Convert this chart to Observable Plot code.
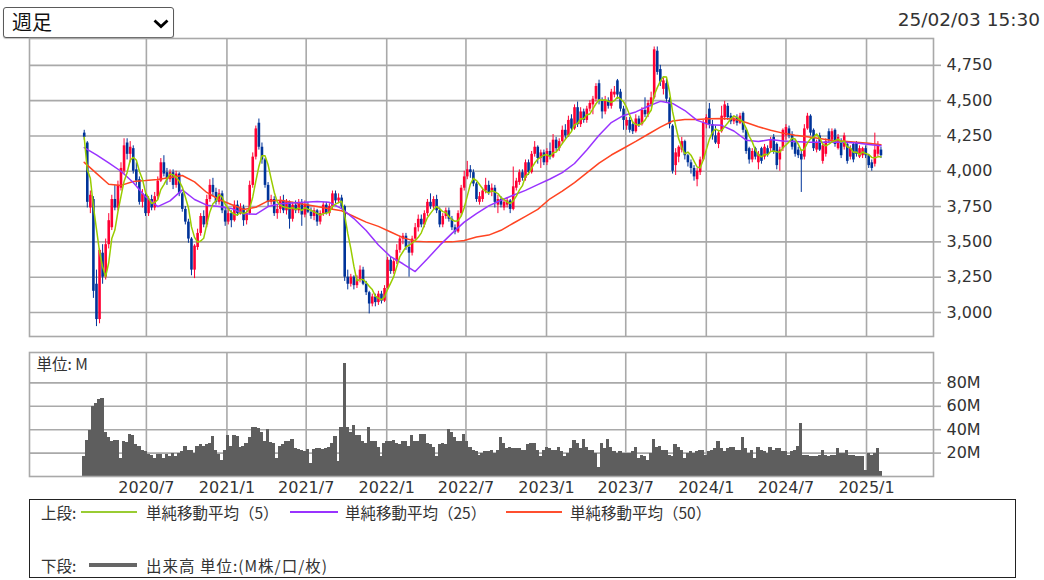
<!DOCTYPE html>
<html lang="ja">
<head>
<meta charset="utf-8">
<script src="https://cdn.jsdelivr.net/npm/d3@7"></script>
<script src="https://cdn.jsdelivr.net/npm/@observablehq/plot@0.6"></script>
<style>
  html,body{margin:0;padding:0;background:#fff;}
  #wrap{position:relative;width:1044px;height:580px;overflow:hidden;background:#fff;font-family:"DejaVu Sans","Noto Sans CJK JP",sans-serif;color:#333;}
  #sel{position:absolute;left:3px;top:7px;width:169px;height:29px;border:1px solid #5a5a5a;border-radius:3px;box-shadow:0 1px 1px rgba(0,0,0,0.25);background:#fff;}
  #sel span{position:absolute;left:8px;top:0;font-family:"Noto Sans CJK JP",sans-serif;font-size:20px;line-height:28px;color:#111;}
  #sel svg{position:absolute;left:149px;top:11px;}
  #stamp{position:absolute;right:4px;top:9px;font-size:18.5px;line-height:22px;color:#333;}
  .chart{position:absolute;left:0;}
  #legend{position:absolute;left:29px;top:499px;width:987px;height:79px;box-sizing:border-box;border:1.5px solid #222;background:#fff;}
  .lg{position:absolute;font-family:"Noto Sans CJK JP",sans-serif;font-size:15.5px;line-height:20px;color:#333;white-space:nowrap;}
  .ln{position:absolute;}
</style>
</head>
<body>
<div id="wrap">
  <div id="sel"><span>週足</span><svg width="16" height="10"><path d="M1.5 1.5 L8 7.5 L14.5 1.5" stroke="#000" stroke-width="2.8" fill="none"/></svg></div>
  <div id="stamp">25/02/03 15:30</div>
  <div id="price" class="chart" style="top:0"></div>
  <div id="vol" class="chart" style="top:340px"></div>
  <div id="legend">
    <div class="lg" style="left:11px;top:2px">上段:</div>
    <div class="ln" style="left:51px;top:11px;width:56px;height:2px;background:#99cc33"></div>
    <div class="lg" style="left:116px;top:2px">単純移動平均（5）</div>
    <div class="ln" style="left:260px;top:11px;width:48px;height:2px;background:#9933ff"></div>
    <div class="lg" style="left:315px;top:2px">単純移動平均（25）</div>
    <div class="ln" style="left:476px;top:11px;width:56px;height:2px;background:#ff4f2f"></div>
    <div class="lg" style="left:540px;top:2px">単純移動平均（50）</div>
    <div class="lg" style="left:11px;top:55px">下段:</div>
    <div class="ln" style="left:59px;top:63px;width:48px;height:4px;background:#666"></div>
    <div class="lg" style="left:116px;top:55px;letter-spacing:1px">出来高 単位:(M株/口/枚)</div>
  </div>
</div>
<script>
// ---- data (weekly, first week 2020-02-10) ----
const opens = [
4270,4200,3740,3800,3200,2950,3420,3250,3480,3600,
3800,3740,3880,4000,4200,4120,4160,4010,3940,3780,
3830,3700,3800,3740,3820,3930,4060,3990,3940,3990,
3900,3980,3840,3730,3640,3520,3300,3460,3560,3680,
3620,3800,3900,3850,3780,3840,3720,3640,3700,3650,
3760,3700,3740,3650,3700,3900,4100,4340,4170,4080,
3900,3780,3800,3700,3730,3790,3720,3780,3660,3760,
3720,3780,3690,3760,3710,3680,3720,3640,3700,3760,
3700,3750,3840,3790,3810,3750,3250,3200,3250,3190,
3230,3300,3200,3140,3060,3110,3070,3130,3080,3170,
3370,3290,3360,3440,3520,3540,3460,3420,3520,3600,
3660,3620,3700,3780,3750,3800,3720,3620,3680,3720,
3660,3600,3570,3700,3880,3960,4010,3990,3910,3780,
3800,3860,3900,3850,3880,3760,3800,3740,3760,3790,
3730,3880,3920,3990,3950,4060,3990,4120,4170,4090,
4130,4060,4140,4100,4220,4160,4210,4290,4250,4370,
4300,4450,4330,4420,4360,4440,4470,4510,4620,4500,
4420,4500,4460,4540,4640,4560,4440,4320,4360,4330,
4280,4370,4330,4430,4400,4470,4520,4850,4720,4580,
4620,4500,4320,4040,4100,4150,4210,4110,4060,4020,
3940,3990,4080,4330,4440,4330,4250,4190,4280,4380,
4460,4390,4350,4380,4340,4410,4290,4160,4080,4160,
4060,4160,4100,4160,4160,4240,4190,4080,4160,4250,
4300,4260,4200,4150,4120,4100,4300,4390,4290,4150,
4250,4070,4120,4280,4220,4290,4160,4210,4170,4190,
4100,4190,4200,4100,4110,4160,4110,4060,4050,4120,
4150];
const highs = [
4290,4210,3860,3820,3300,3450,3480,3520,3700,3830,
3900,3930,4060,4230,4230,4210,4180,4060,3960,3870,
3850,3820,3830,3850,3960,4090,4110,4020,4010,4010,
4000,3990,3850,3750,3660,3530,3480,3590,3700,3720,
3830,3940,3950,3880,3870,3860,3740,3730,3720,3790,
3790,3770,3760,3720,3930,4130,4320,4370,4200,4090,
3920,3830,3820,3760,3820,3830,3800,3790,3780,3790,
3800,3800,3790,3780,3740,3740,3730,3720,3780,3780,
3770,3860,3860,3840,3830,3760,3300,3270,3260,3260,
3330,3320,3220,3150,3130,3130,3150,3150,3190,3390,
3390,3380,3480,3540,3560,3560,3500,3540,3630,3690,
3690,3720,3800,3840,3820,3830,3740,3700,3740,3740,
3680,3620,3720,3900,4000,4070,4040,4010,3920,3850,
3880,3950,3930,3910,3900,3830,3820,3800,3810,3800,
4030,3950,4010,4010,4080,4080,4140,4210,4180,4150,
4150,4160,4200,4260,4240,4230,4320,4330,4390,4400,
4470,4490,4450,4440,4460,4500,4530,4620,4645,4520,
4530,4520,4580,4600,4650,4580,4460,4380,4380,4350,
4400,4390,4450,4520,4500,4560,4880,4880,4750,4660,
4650,4520,4330,4160,4180,4240,4220,4120,4080,4040,
4020,4100,4360,4400,4480,4360,4320,4290,4460,4495,
4480,4410,4390,4400,4410,4420,4300,4170,4160,4170,
4140,4170,4190,4180,4240,4260,4200,4170,4300,4330,
4320,4280,4220,4170,4150,4330,4410,4400,4300,4220,
4270,4200,4230,4300,4300,4300,4260,4230,4270,4200,
4180,4200,4210,4180,4170,4180,4120,4080,4270,4210,
4170];
const lows = [
4220,3740,3700,3100,2900,2920,3200,3230,3450,3580,
3720,3720,3860,3980,4080,4060,3980,3900,3760,3740,
3680,3680,3720,3720,3800,3920,3960,3900,3920,3870,
3880,3820,3710,3620,3490,3260,3240,3440,3540,3600,
3600,3780,3820,3760,3760,3700,3610,3620,3600,3640,
3680,3690,3610,3620,3690,3880,4080,4150,4050,3880,
3750,3760,3680,3660,3700,3700,3690,3590,3640,3700,
3700,3610,3670,3700,3660,3650,3610,3620,3680,3690,
3680,3730,3770,3770,3730,3220,3160,3180,3160,3170,
3210,3190,3120,2990,3040,3040,3050,3060,3070,3160,
3270,3270,3340,3420,3480,3440,3250,3400,3500,3570,
3600,3600,3680,3730,3730,3700,3600,3600,3660,3640,
3580,3550,3560,3680,3860,3940,3950,3890,3780,3760,
3780,3840,3830,3820,3740,3700,3740,3720,3740,3700,
3720,3860,3900,3930,3930,3970,3980,4100,4050,4020,
4040,4040,4080,4090,4140,4140,4190,4220,4240,4280,
4290,4310,4310,4340,4340,4420,4400,4490,4470,4370,
4400,4440,4440,4520,4510,4420,4290,4290,4270,4260,
4270,4310,4320,4380,4380,4450,4510,4680,4600,4540,
4480,4300,3980,3970,4060,4130,4080,4030,3980,3930,
3890,3970,4070,4300,4300,4220,4190,4160,4270,4360,
4360,4330,4330,4320,4330,4270,4120,4050,4060,4080,
4010,4050,4080,4100,4140,4120,4010,4000,4140,4220,
4230,4150,4100,4090,3850,4080,4290,4250,4140,4130,
4140,4050,4100,4200,4200,4170,4150,4090,4150,4050,
4080,4060,4100,4090,4090,4090,4020,4000,4030,4100,
4090];
const closes = [
4240,3780,3830,3150,2950,3440,3250,3480,3650,3800,
3740,3900,4020,4180,4120,4170,4000,3930,3780,3840,
3700,3800,3740,3820,3930,4060,3980,3940,3990,3900,
3980,3840,3730,3640,3520,3300,3470,3560,3680,3620,
3800,3900,3850,3780,3840,3720,3640,3700,3650,3760,
3700,3740,3650,3700,3900,4100,4300,4170,4080,3900,
3780,3800,3700,3730,3790,3720,3780,3660,3760,3720,
3780,3690,3760,3710,3680,3720,3640,3700,3760,3700,
3750,3840,3790,3810,3750,3250,3200,3250,3190,3230,
3300,3200,3140,3060,3110,3070,3130,3080,3170,3370,
3290,3360,3440,3520,3540,3460,3420,3520,3600,3660,
3620,3700,3780,3750,3800,3720,3620,3680,3720,3660,
3600,3570,3700,3880,3960,4010,3990,3910,3800,3820,
3860,3900,3850,3880,3780,3800,3760,3780,3790,3730,
3890,3930,3990,3950,4060,3990,4120,4170,4090,4130,
4060,4140,4100,4220,4160,4210,4290,4250,4360,4300,
4450,4330,4420,4360,4440,4480,4510,4600,4500,4420,
4500,4460,4560,4560,4540,4440,4360,4360,4290,4280,
4370,4330,4430,4400,4480,4520,4860,4700,4630,4640,
4510,4330,4000,4130,4170,4210,4110,4060,4020,3960,
4000,4080,4340,4380,4330,4250,4200,4270,4390,4470,
4380,4350,4370,4340,4390,4290,4140,4080,4140,4100,
4120,4070,4170,4120,4220,4140,4040,4150,4290,4310,
4250,4170,4120,4110,4080,4300,4390,4270,4160,4200,
4150,4180,4210,4220,4280,4190,4240,4110,4250,4070,
4160,4080,4120,4160,4160,4110,4040,4020,4150,4190,
4110];
// weekly volume, millions of shares
const volumes = [
17,31,39,60,62,66,67,38,33,30,
31,31,15,30,29,36,35,27,26,22,
21,19,18,15,19,19,15,19,17,20,
17,20,21,26,22,22,20,26,27,26,
27,28,34,22,19,14,22,35,26,35,
34,25,26,28,33,42,42,41,38,30,
40,29,28,15,26,27,30,30,32,24,
23,22,21,23,11,23,24,24,23,24,
25,28,34,13,42,97,42,38,44,35,
35,30,28,42,30,30,25,17,28,30,
30,31,28,27,30,30,26,35,30,30,
36,36,28,27,25,17,27,28,27,40,
38,33,30,30,36,30,25,22,21,18,
20,21,21,22,20,22,33,28,24,25,
24,24,24,22,22,27,28,28,22,17,
22,25,24,22,22,25,21,17,20,24,
31,28,24,32,25,22,22,20,8,28,
24,32,25,21,20,21,20,20,20,21,
25,15,18,17,14,20,32,25,26,22,
22,18,17,27,25,22,15,20,21,20,
21,22,22,18,21,22,24,30,24,21,
24,25,25,22,22,33,24,20,22,15,
25,22,21,20,25,22,24,24,21,21,
18,21,22,26,45,18,18,17,17,17,
18,22,18,17,18,18,24,20,20,22,
18,18,17,17,17,5,20,18,20,24,
4];
// moving averages read every 4th week
const ma25 = [4168,4116,4060,4000,3920,3820,3750,3790,3868,3800,3760,3750,3737,3700,3695,3750,3770,3775,3780,3785,3780,3735,3665,3580,3478,3395,3345,3290,3380,3475,3560,3640,3700,3755,3795,3830,3865,3905,3945,3990,4055,4150,4255,4345,4395,4420,4460,4495,4480,4430,4360,4330,4325,4285,4220,4210,4225,4215,4210,4205,4205,4208,4205,4200,4190,4180];
const ma50 = [4063,3985,3908,3900,3928,3934,3942,3955,3970,3925,3850,3800,3765,3730,3745,3790,3795,3780,3765,3750,3735,3720,3680,3640,3610,3570,3530,3505,3500,3500,3500,3510,3535,3548,3582,3632,3680,3730,3805,3860,3920,3988,4058,4115,4163,4211,4262,4312,4356,4366,4366,4372,4373,4370,4345,4315,4290,4270,4255,4245,4232,4218,4212,4205,4198,4188];
const priceTicks = [3000,3250,3500,3750,4000,4250,4500,4750];
const volTicks = [20,40,60,80];
const gridDateLabels = ["2020-07-01","2021-01-01","2021-07-01","2022-01-01","2022-07-01","2023-01-01","2023-07-01","2024-01-01","2024-07-01","2025-01-01"];
const xDomainLabels = ["2019-10-08","2025-06-03"];
const firstWeek = "2020-02-10";

// ---- build tables ----
const DAY = 864e5;
const t0 = new Date(firstWeek + "T00:00:00Z").getTime();
const weeks = closes.map((_, i) => new Date(t0 + i * 7 * DAY));
const candles = closes.map((c, i) => ({date: weeks[i], open: opens[i], high: highs[i], low: lows[i], close: c, vol: volumes[i]}));
const up = candles.filter(d => d.close >= d.open);
const down = candles.filter(d => d.close < d.open);
const maDates = weeks.filter((_, i) => i % 4 === 0);
const ma25Data = ma25.map((v, j) => ({date: maDates[j], v}));
const ma50Data = ma50.map((v, j) => ({date: maDates[j], v}));
const gridDates = gridDateLabels.map(s => new Date(s + "T00:00:00Z"));
const xDomain = xDomainLabels.map(s => new Date(s + "T00:00:00Z"));

const RED = "#ff0033", BLUE = "#003399", GREEN = "#99cc00", PURPLE = "#9933ff", ORANGE = "#ff4422";
const GRID = "#a9a9a9", VOLC = "#5e5e5e", TXT = "#333";
const style = {fontFamily: "DejaVu Sans, Noto Sans CJK JP, sans-serif", fontSize: "16px", color: TXT, background: "transparent", overflow: "visible"};

const priceChart = Plot.plot({
  width: 1044, height: 340,
  marginLeft: 29, marginRight: 111, marginTop: 38, marginBottom: 4,
  x: {type: "utc", domain: xDomain, axis: null, label: null},
  y: {domain: [2830, 4940], axis: null, label: null},
  style,
  marks: [
    Plot.gridX(gridDates, {stroke: GRID, strokeOpacity: 1, strokeWidth: 1.6}),
    Plot.gridY(priceTicks, {stroke: GRID, strokeOpacity: 1, strokeWidth: 1.6}),
    Plot.frame({stroke: GRID, strokeWidth: 1.6}),
    Plot.axisY(priceTicks, {anchor: "right", label: null, tickSize: 7, tickPadding: 6, tickFormat: d3.format(","), stroke: GRID, strokeWidth: 1.6, fill: TXT}),
    Plot.ruleX(up, {x: "date", y1: "low", y2: "high", stroke: RED, strokeWidth: 1}),
    Plot.ruleX(down, {x: "date", y1: "low", y2: "high", stroke: BLUE, strokeWidth: 1}),
    Plot.ruleX(up, {x: "date", y1: "open", y2: "close", stroke: RED, strokeWidth: 2.6}),
    Plot.ruleX(down, {x: "date", y1: "open", y2: "close", stroke: BLUE, strokeWidth: 2.6}),
    Plot.lineY(ma50Data, {x: "date", y: "v", stroke: ORANGE, strokeWidth: 1.5}),
    Plot.lineY(ma25Data, {x: "date", y: "v", stroke: PURPLE, strokeWidth: 1.5}),
    Plot.lineY(candles, Plot.windowY({k: 5, anchor: "end", reduce: "mean"}, {x: "date", y: "close", stroke: GREEN, strokeWidth: 1.5}))
  ]
});
document.getElementById("price").appendChild(priceChart);

const volChart = Plot.plot({
  width: 1044, height: 160,
  marginLeft: 29, marginRight: 111, marginTop: 12, marginBottom: 24,
  x: {type: "utc", domain: xDomain, axis: null, label: null},
  y: {domain: [0, 106], axis: null, label: null},
  style,
  marks: [
    Plot.gridX(gridDates, {stroke: GRID, strokeOpacity: 1, strokeWidth: 1.6}),
    Plot.gridY(volTicks, {stroke: GRID, strokeOpacity: 1, strokeWidth: 1.6}),
    Plot.rectY(candles, {x1: d => new Date(+d.date - 3.8 * DAY), x2: d => new Date(+d.date + 3.8 * DAY), y1: d => 0, y2: "vol", fill: VOLC, shapeRendering: "crispEdges"}),
    Plot.frame({stroke: GRID, strokeWidth: 1.6}),
    Plot.axisY(volTicks, {anchor: "right", label: null, tickSize: 7, tickPadding: 6, tickFormat: d => d + "M", stroke: GRID, strokeWidth: 1.6, fill: TXT}),
    Plot.axisX(gridDates, {anchor: "bottom", label: null, tickSize: 0, tickPadding: 5, tickFormat: d => `${d.getUTCFullYear()}/${d.getUTCMonth() + 1}`, fill: TXT}),
    Plot.text(["単位: M"], {frameAnchor: "top-left", dx: 7, dy: 6, fontSize: 15.5, fill: TXT, fontFamily: "Noto Sans CJK JP, sans-serif"})
  ]
});
document.getElementById("vol").appendChild(volChart);
</script>
</body>
</html>
